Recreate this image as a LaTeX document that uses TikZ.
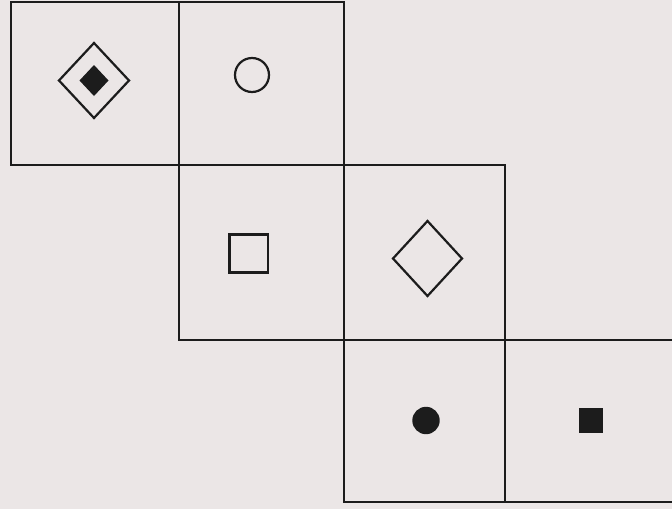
\documentclass[tikz,border=0pt]{standalone}
\usetikzlibrary{shapes.geometric}
\definecolor{paper}{RGB}{235,230,230}
\definecolor{ink}{RGB}{28,28,28}
\begin{document}
\begin{tikzpicture}[x=1pt,y=-1pt,
  cell/.style={draw=ink,line width=2.6pt},
  outline/.style={draw=ink,line width=2.2pt}]
\fill[paper] (0,0) rectangle (672,509);
\useasboundingbox (0,0) rectangle (672,509);
% grid cells
\draw[cell] (11,2) rectangle (179,165);
\draw[cell] (179,2) rectangle (344,165);
\draw[cell] (179,165) rectangle (344,340);
\draw[cell] (344,165) rectangle (505,340);
\draw[cell] (344,340) rectangle (505,502);
\draw[cell] (505,340) -- (680,340);
\draw[cell] (505,502) -- (680,502);
% cell 1: diamond with filled diamond
\draw[outline] (94,43) -- (129,80.5) -- (94,118) -- (59,80.5) -- cycle;
\fill[ink] (94,65) -- (108.5,80.5) -- (94,96) -- (79.5,80.5) -- cycle;
% cell 2: circle
\draw[outline] (252,75) circle (17);
% cell 3: square
\draw[outline] (229.5,234.5) rectangle (268,272.5);
% cell 4: diamond
\draw[outline] (427.5,221) -- (462,258.5) -- (427.5,296) -- (393,258.5) -- cycle;
% cell 5: filled circle
\fill[ink] (426,420.5) circle (13.7);
% cell 6: filled square
\fill[ink] (579,408) rectangle (603,433);
\end{tikzpicture}
\end{document}
